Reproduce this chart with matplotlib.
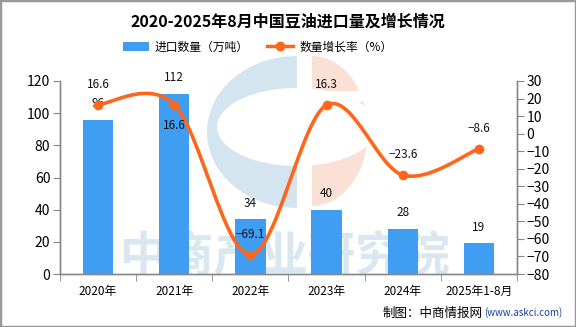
import numpy as np
import matplotlib
matplotlib.use('Agg')
import matplotlib.pyplot as plt
from matplotlib.patches import Polygon, Ellipse, Rectangle, Patch
from matplotlib.lines import Line2D

plt.rcParams['font.family'] = ['Noto Sans CJK SC', 'DejaVu Sans']

# data
years = ['2020年', '2021年', '2022年', '2023年', '2024年', '2025年1-8月']
volume = [96, 112, 34, 40, 28, 19]            # 万吨
growth = [16.6, 16.6, -69.1, 16.3, -23.6, -8.6]  # %
label_below = [False, True, False, False, False, False]

BLUE = '#3f9ef2'
ORANGE = '#fd661c'
WM_BLUE = '#d5e5ef'
WM_PEACH = '#fae0d5'

W, H = 576, 327
fig = plt.figure(figsize=(W / 100, H / 100), dpi=100)

def px(x, y):
    return x / W, 1 - y / H

def half_ellipse(cx, cy, rx, ry, a0, a1, color, z):
    th = np.radians(np.linspace(a0, a1, 80))
    pts = [px(cx + rx * np.cos(t), cy - ry * np.sin(t)) for t in th]
    fig.patches.append(Polygon(pts, closed=True, transform=fig.transFigure,
                               facecolor=color, edgecolor='none', zorder=z))

# watermark logo, behind everything
half_ellipse(297, 132, 90, 76, 90, 270, WM_BLUE, -3)
fig.patches.append(Ellipse(px(297, 127), 160 / W, 78 / H, transform=fig.transFigure,
                           facecolor='white', edgecolor='none', zorder=-2))
half_ellipse(312, 131, 56, 75, -90, 90, WM_PEACH, -3)
fig.patches.append(Rectangle(px(311, 102), 62 / W, 11 / H, transform=fig.transFigure,
                             facecolor='white', edgecolor='none', zorder=-2))
fig.text(*px(285, 256), '中商产业研究院', ha='center', va='center', fontsize=34,
         color='#d9e7f0', fontweight='bold', zorder=-1)

ax = fig.add_axes([60 / W, 1 - 274 / H, (517 - 60) / W, (274 - 81) / H])
ax.patch.set_visible(False)
ax2 = ax.twinx()
ax2.patch.set_visible(False)
ax.set_zorder(1)
ax2.set_zorder(2)

x = np.arange(len(years))
ax.bar(x, volume, width=0.4, color=BLUE, zorder=2)
for xi, v in zip(x, volume):
    ax.annotate(str(v), (xi, v), xytext=(0, 7), textcoords='offset points',
                ha='center', va='bottom', fontsize=8.5, color='#111')

ax.set_ylim(0, 120)
ax.set_yticks(range(0, 121, 20))
ax.set_xlim(-0.5, len(years) - 0.5)
ax.set_xticks(x)
ax.set_xticklabels(years, fontsize=8.5)
ax.set_xticks(np.arange(-0.5, len(years), 1), minor=True)
ax.tick_params(axis='x', which='major', length=0, pad=8)
ax.tick_params(axis='x', which='minor', length=5, color='#888')
ax.tick_params(axis='y', length=5, color='#888', labelsize=10, pad=2)

ax2.set_ylim(-80, 30)
ax2.set_yticks(range(-80, 31, 10))
ax2.set_yticklabels([str(t).replace('-', '\u2212') for t in range(-80, 31, 10)])
ax2.tick_params(axis='y', length=5, color='#888', labelsize=10, pad=2)

for a in (ax, ax2):
    a.spines['top'].set_visible(False)
    for s in ('left', 'right', 'bottom'):
        a.spines[s].set_color('#888')
        a.spines[s].set_linewidth(1)

# smooth line (Catmull-Rom through the data points)
g = np.array(growth)
P = np.column_stack([x, g]).astype(float)
Pe = np.vstack([P[0], P, P[-1]])
cx, cy = [], []
for i in range(len(P) - 1):
    p0, p1, p2, p3 = Pe[i], Pe[i + 1], Pe[i + 2], Pe[i + 3]
    t = np.linspace(0, 1, 30)[:, None]
    seg = 0.5 * ((2 * p1) + (-p0 + p2) * t + (2 * p0 - 5 * p1 + 4 * p2 - p3) * t ** 2
                 + (-p0 + 3 * p1 - 3 * p2 + p3) * t ** 3)
    cx.extend(seg[:, 0]); cy.extend(seg[:, 1])
ax2.plot(cx, cy, color=ORANGE, lw=2.6, zorder=3, solid_capstyle='round')
ax2.plot(x, g, 'o', color=ORANGE, ms=6, zorder=4)
for xi, v, below in zip(x, g, label_below):
    off = -20 if below else 10
    ax2.annotate(f'{v:.1f}'.replace('-', '\u2212'), (xi, v), xytext=(0, off),
                 textcoords='offset points', ha='center', va='bottom',
                 fontsize=8.5, color='#111', zorder=5)

fig.text(0.5, 1 - 22 / H, '2020-2025年8月中国豆油进口量及增长情况', ha='center',
         va='center', fontsize=11.5, fontweight='bold')

handles = [Patch(facecolor=BLUE, edgecolor='none'),
           Line2D([], [], color=ORANGE, lw=2.5, marker='o', ms=6)]
fig.legend(handles, ['进口数量（万吨）', '数量增长率（%）'], loc='center',
           bbox_to_anchor=(0.447, 1 - 47 / H), ncol=2, frameon=False, fontsize=8.5,
           handlelength=2.2, handleheight=0.9, columnspacing=1.6, handletextpad=0.5)

fig.text(483 / W, 1 - 313 / H, '制图：中商情报网', ha='right', va='center', fontsize=9)
fig.text(484 / W, 1 - 313 / H, '(www.askci.com)', ha='left', va='center',
         fontsize=7, color='#1a3fa8')

fig.patches.append(Rectangle((0, 0), 1, 1, transform=fig.transFigure, fill=False,
                             edgecolor='#999', lw=2.5, zorder=10))

fig.savefig('out.png', dpi=100)
